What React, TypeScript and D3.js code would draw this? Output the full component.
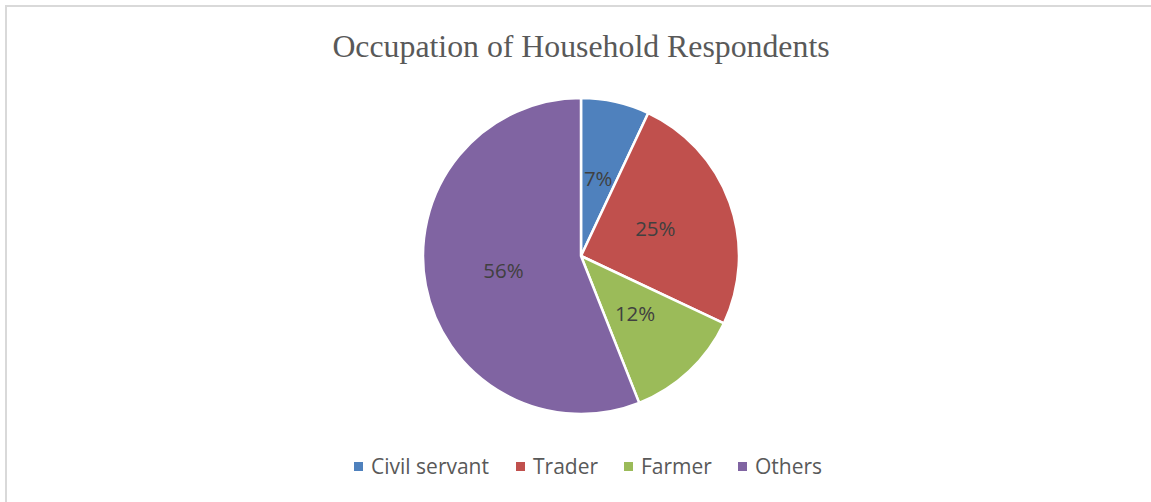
import React from "react";
import * as d3 from "d3";

const categories = ["Civil servant", "Trader", "Farmer", "Others"];
const values = [7, 25, 12, 56];
const colors = ["#4F81BD", "#C0504D", "#9BBB59", "#8064A2"];
const title = "Occupation of Household Respondents";

const W = 1151;
const H = 502;

export default function App() {
  const cx = 581;
  const cy = 256;
  const R = 158;
  const pie = d3.pie<number>().sort(null).value((d) => d)(values);
  const arc = d3.arc<d3.PieArcDatum<number>>().innerRadius(0).outerRadius(R);
  const labelArc = d3.arc<d3.PieArcDatum<number>>().innerRadius(0).outerRadius(R);
  const total = d3.sum(values);

  const legendX = [354, 516, 624, 738];
  return (
    <div style={{ position: "absolute", left: 0, top: 0 }}>
      <svg width={W} height={H} style={{ display: "block" }}>
        <rect x={0} y={0} width={W} height={H} fill="#fff" />
        <rect x={6} y={6} width={W + 10} height={H + 10} fill="none" stroke="#d9d9d9" strokeWidth={2} />
        <text
          x={cx}
          y={57}
          textAnchor="middle"
          fontFamily="'Liberation Serif', 'Times New Roman', serif"
          fontSize={31.8}
          fill="#595959"
        >
          {title}
        </text>
        <g transform={`translate(${cx},${cy})`}>
          {pie.map((p, i) => (
            <path key={i} d={arc(p) || ""} fill={colors[i]} stroke="#fff" strokeWidth={2.5} strokeLinejoin="round" />
          ))}
          {pie.map((p, i) => {
            const [x, y] = labelArc.centroid(p);
            return (
              <text
                key={"l" + i}
                x={x}
                y={y}
                dy="0.35em"
                textAnchor="middle"
                fontFamily="'Open Sans', 'Liberation Sans', sans-serif"
                fontSize={20.5}
                fill="#404040"
              >
                {Math.round((values[i] / total) * 100)}%
              </text>
            );
          })}
        </g>
        {categories.map((c, i) => (
          <g key={"lg" + i}>
            <rect x={legendX[i]} y={462} width={9} height={9} fill={colors[i]} />
            <text
              x={legendX[i] + 17}
              y={466}
              dy="0.36em"
              fontFamily="'Open Sans', 'Liberation Sans', sans-serif"
              fontSize={21}
              fill="#595959"
            >
              {c}
            </text>
          </g>
        ))}
      </svg>
    </div>
  );
}
